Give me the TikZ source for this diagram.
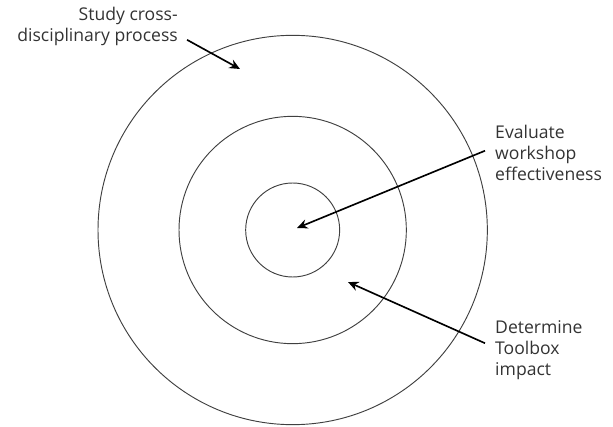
\documentclass[tikz,border=0pt]{standalone}
\usepackage{fontspec}
\setmainfont{Open Sans}
\usetikzlibrary{positioning, arrows.meta}

\begin{document}
\begin{tikzpicture}[
    lbl/.style={inner sep=0pt, text=black!80, font=\fontsize{15}{18}\selectfont},
    ring/.style={draw=black!75, line width=0.8pt},
    pointer/.style={-{Stealth[length=9pt, width=8pt, inset=3pt]}, line width=1.4pt}
  ]
    \useasboundingbox (0,0) rectangle (18.39,12.78);

    % Draw the rings
    \coordinate (centre) at (8.78,5.88);
    \foreach \r in {1.41, 3.41, 5.84} {
      \draw[ring] (centre) circle (\r);
    }

    % Labels
    \node[lbl, align=right, anchor=north east] (study) at (5.34,12.58) {Study cross-\\disciplinary process};
    \node[lbl, align=left, anchor=north west] (eval) at (14.85,9.04) {Evaluate\\workshop\\effectiveness};
    \node[lbl, align=left, anchor=north west] (impact) at (14.85,3.18) {Determine\\Toolbox\\impact};

    % Arrow targets
    \coordinate (outer) at (7.20,10.71);
    \coordinate (core) at (8.91,5.94);
    \coordinate (middle) at (10.44,4.32);

    % Arrows
    \draw[pointer] ([shift={(0.27,0.18)}]study.south east) -- (outer);
    \draw[pointer] ([shift={(-0.3,0.06)}]eval.west) -- (core);
    \draw[pointer] ([shift={(-0.3,0.2)}]impact.west) -- (middle);
\end{tikzpicture}
\end{document}
